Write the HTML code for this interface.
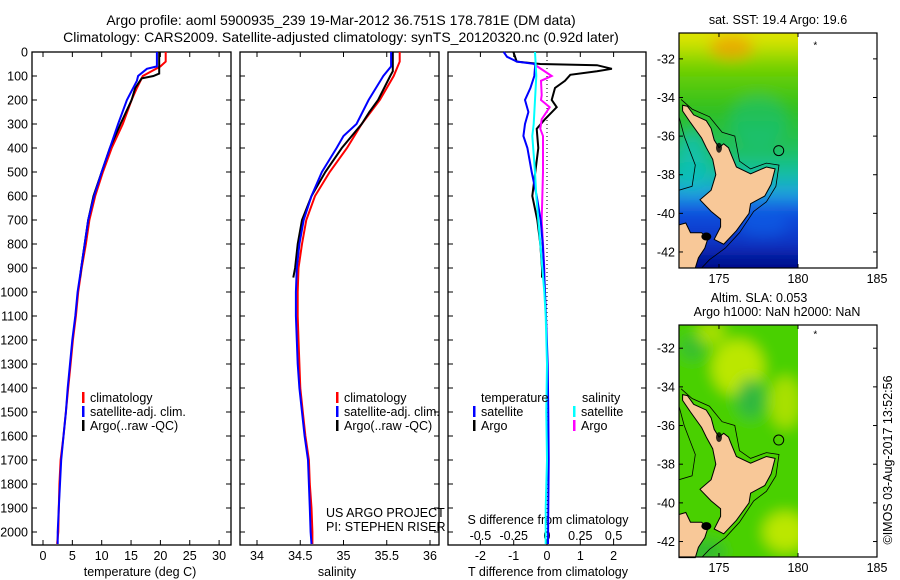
<!DOCTYPE html>
<html><head><meta charset="utf-8">
<style>
html,body{margin:0;padding:0;background:#fff;}
svg{display:block;font-family:"Liberation Sans",sans-serif;}
text{fill:#000;}
</style></head>
<body>
<svg id="fig" width="900" height="580" viewBox="0 0 900 580" xmlns="http://www.w3.org/2000/svg">
<defs><filter id="blur" x="-20%" y="-20%" width="140%" height="140%"><feGaussianBlur stdDeviation="7"/></filter></defs>
<rect width="900" height="580" fill="#fff"/>
<text x="341" y="25" font-size="14" text-anchor="middle">Argo profile: aoml 5900935_239 19-Mar-2012 36.751S 178.781E (DM data)</text>
<text x="341" y="42" font-size="14" text-anchor="middle">Climatology: CARS2009. Satellite-adjusted climatology: synTS_20120320.nc (0.92d later)</text>
<g id="panels"></g>
<g id="maps"></g>
<text transform="translate(892,460) rotate(-90)" font-size="12.5" text-anchor="middle">©IMOS 03-Aug-2017 13:52:56</text>
</svg>
<script>
// ---------- data ----------
const tempClimDepth = [0,40,60,100,150,200,300,400,500,600,700,800,900,1000,1100,1200,1300,1400,1500,1600,1700,1800,1900,2000,2050];
const tempClim      = [20.9,20.9,20,17,16,15.1,13.6,11.7,10.2,8.9,7.9,7.3,6.6,6.0,5.6,5.1,4.7,4.3,3.9,3.5,3.0,2.8,2.7,2.6,2.4];
const tempSatDepth  = [0,60,70,100,120,200,300,400,500,600,700,800,900,1000,1100,1200,1300,1400,1500,1600,1700,1800,1900,2000,2050];
const tempSat       = [19.4,19.4,17.7,16.2,16,14.3,12.8,11.4,10,8.7,7.7,7.1,6.5,5.9,5.5,5.0,4.6,4.2,3.9,3.5,3.1,2.9,2.7,2.5,2.5];
const tempArgoDepth = [0,90,100,110,150,200,300,400,500,600,700,800,900,940];
const tempArgo      = [19.8,19.8,18.8,16.8,15.7,15.1,13.2,11.4,10,8.6,7.7,7.1,6.5,6.3];

const salClimDepth = [0,40,100,200,300,400,500,600,700,800,900,1000,1100,1200,1300,1400,1500,1600,1700,1800,1900,2000,2050];
const salClim      = [35.65,35.65,35.58,35.42,35.21,35.04,34.84,34.67,34.57,34.52,34.48,34.47,34.47,34.48,34.49,34.50,34.53,34.56,34.60,34.61,34.63,34.64,34.64];
const salSatDepth  = [0,60,100,200,300,350,400,500,600,700,800,900,1000,1100,1200,1300,1400,1500,1600,1700,1800,1900,2000,2050];
const salSat       = [35.55,35.55,35.46,35.29,35.15,35.0,34.92,34.75,34.63,34.54,34.49,34.46,34.45,34.45,34.46,34.47,34.49,34.52,34.55,34.59,34.60,34.61,34.62,34.63];
const salArgoDepth = [0,80,100,200,250,300,400,500,600,700,800,900,940];
const salArgo      = [35.57,35.57,35.54,35.40,35.30,35.21,34.98,34.79,34.63,34.52,34.47,34.44,34.42];

const dTSatDepth = [0,20,40,50,100,150,200,250,300,350,400,500,600,700,800,900,1000,1100,1300,1500,1700,1900,2050];
const dTSat      = [-1.3,-1.2,-0.9,-0.35,-0.38,-0.5,-0.66,-0.56,-0.66,-0.71,-0.59,-0.46,-0.31,-0.19,-0.13,-0.09,-0.06,-0.03,0.02,0.04,0.05,0.04,0.03];
const dTArgoDepth = [0,40,50,55,70,80,95,120,150,200,230,280,320,400,500,600,700,800,900,940];
const dTArgo      = [-1.01,-0.91,-0.2,1.5,1.95,1.5,0.7,0.54,0.24,0.14,0.29,-0.06,-0.31,-0.26,-0.35,-0.44,-0.29,-0.2,-0.15,-0.15];
const dSSatDepth = [0,100,200,300,350,500,600,800,1000,1100,1300,1500,1700,1900,2050];
const dSSat      = [-0.09,-0.08,-0.09,-0.10,-0.11,-0.09,-0.08,-0.05,-0.02,-0.01,0,-0.005,0,-0.01,-0.01];
const dSArgoDepth = [50,100,120,180,200,230,280,320,350,500,700,800,900,940];
const dSArgo      = [-0.1,0.035,-0.045,-0.04,-0.045,0.02,-0.04,-0.05,-0.03,-0.03,-0.04,-0.03,-0.02,-0.02];

const depthTicks = [0,100,200,300,400,500,600,700,800,900,1000,1100,1200,1300,1400,1500,1600,1700,1800,1900,2000];
const tempTicks = [0,5,10,15,20,25,30];
const salTicks = [34,34.5,35,35.5,36];
const salTickLabels = ["34","34.5","35","35.5","36"];
const dTTicks = [-2,-1,0,1,2];
const dSTicks = [-0.5,-0.25,0,0.25,0.5];
const dSTickLabels = ["-0.5","-0.25","0","0.25","0.5"];
const lonTicks = [175,180,185];
const latTicks = [-32,-34,-36,-38,-40,-42];

// ---------- scales ----------
const NS="http://www.w3.org/2000/svg";
const TOP=52, BOT=545;
const yD = d => TOP + d*0.24;
const xT = t => 43 + t*5.87;
const xS = s => 257 + (s-34)*86.5;
const xDT = t => 547 + t*33.3;
const xDS = s => xDT(s*4);
function el(tag, attrs, parent){const e=document.createElementNS(NS,tag);for(const k in attrs)e.setAttribute(k,attrs[k]);parent.appendChild(e);return e;}
const panels=document.getElementById('panels');

function frame(x0,x1,name){
  const g=el('g',{},panels);
  
  
  el('rect',{x:x0,y:TOP,width:x1-x0,height:BOT-TOP,fill:'none',stroke:'#000','stroke-width':1.3},g);
  depthTicks.forEach(d=>{
    el('line',{x1:x0,x2:x0+5,y1:yD(d),y2:yD(d),stroke:'#000'},g);
    el('line',{x1:x1-5,x2:x1,y1:yD(d),y2:yD(d),stroke:'#000'},g);
  });
  return g;
}
function xticks(g,xs,labels,y){
  xs.forEach((x,i)=>{
    el('line',{x1:x,x2:x,y1:TOP,y2:TOP+5,stroke:'#000'},g);
    el('line',{x1:x,x2:x,y1:BOT-5,y2:BOT,stroke:'#000'},g);
    if(labels){const t=el('text',{x:x,y:y,'font-size':12.5,'text-anchor':'middle'},g);t.textContent=labels[i];}
  });
}
function line(g,xs,ds,fn,color,name,w){
  const p=el('polyline',{points:xs.map((v,i)=>fn(v).toFixed(1)+','+yD(ds[i]).toFixed(1)).join(' '),fill:'none',stroke:color,'stroke-width':w||2,'stroke-linejoin':'miter'},g);
  
  
}
function txt(g,x,y,s,name,anchor,size){
  const t=el('text',{x:x,y:y,'font-size':size||12.5,'text-anchor':anchor||'start'},g);
  t.textContent=s;
  
  
  return t;
}
function legendMark(g,x,y,color,name){
  const r=el('rect',{x:x,y:y-10,width:2.5,height:11,fill:color},g);
  
  
}

// panel 1: temperature
const p1=frame(32,231,'temperature-panel');
depthTicks.forEach(d=>{txt(p1,28,yD(d)+4.5,String(d),'depth-tick-label','end');});
xticks(p1,tempTicks.map(xT),tempTicks.map(String),560);
txt(p1,140,576,'temperature (deg C)','x-axis-title-temperature','middle');
line(p1,tempClim,tempClimDepth,xT,'#f00','temp-climatology-line');
line(p1,tempArgo,tempArgoDepth,xT,'#000','temp-argo-line');
line(p1,tempSat,tempSatDepth,xT,'#00f','temp-satellite-line');
legendMark(p1,82,402,'#f00','legend-climatology-mark');txt(p1,90,402,'climatology','legend-climatology');
legendMark(p1,82,416,'#00f','legend-satellite-mark');txt(p1,90,416,'satellite-adj. clim.','legend-satellite');
legendMark(p1,82,430,'#000','legend-argo-mark');txt(p1,90,430,'Argo(..raw -QC)','legend-argo');

// panel 2: salinity
const p2=frame(240,439,'salinity-panel');
xticks(p2,salTicks.map(xS),salTickLabels,560);
txt(p2,337,576,'salinity','x-axis-title-salinity','middle');
line(p2,salClim,salClimDepth,xS,'#f00','sal-climatology-line');
line(p2,salArgo,salArgoDepth,xS,'#000','sal-argo-line');
line(p2,salSat,salSatDepth,xS,'#00f','sal-satellite-line');
legendMark(p2,336,402,'#f00','legend-climatology-mark');txt(p2,344,402,'climatology','legend-climatology');
legendMark(p2,336,416,'#00f','legend-satellite-mark');txt(p2,344,416,'satellite-adj. clim.','legend-satellite');
legendMark(p2,336,430,'#000','legend-argo-mark');txt(p2,344,430,'Argo(..raw -QC)','legend-argo');
txt(p2,326,517,'US ARGO PROJECT','project-label');
txt(p2,326,531,'PI: STEPHEN RISER','pi-label');

// panel 3: differences
const p3=frame(448,646,'difference-panel');
xticks(p3,dTTicks.map(xDT),dTTicks.map(String),560);
dSTicks.forEach((s,i)=>txt(p3,xDS(s),540,dSTickLabels[i],'s-diff-tick-label','middle'));
txt(p3,548,524,'S difference from climatology','s-diff-axis-title','middle');
txt(p3,548,576,'T difference from climatology','t-diff-axis-title','middle');
el('line',{x1:xDT(0),x2:xDT(0),y1:TOP,y2:BOT,stroke:'#000','stroke-dasharray':'1,3'},p3);
line(p3,dTArgo,dTArgoDepth,xDT,'#000','tdiff-argo-line');
line(p3,dSArgo,dSArgoDepth,xDS,'#f0f','sdiff-argo-line');
line(p3,dTSat,dTSatDepth,xDT,'#00f','tdiff-satellite-line');
line(p3,dSSat,dSSatDepth,xDS,'#0ff','sdiff-satellite-line');
txt(p3,481,402,'temperature','legend-temperature-header');
txt(p3,582,402,'salinity','legend-salinity-header');
legendMark(p3,473,416,'#00f','legend-t-satellite-mark');txt(p3,481,416,'satellite','legend-t-satellite');
legendMark(p3,473,430,'#000','legend-t-argo-mark');txt(p3,481,430,'Argo','legend-t-argo');
legendMark(p3,573,416,'#0ff','legend-s-satellite-mark');txt(p3,581,416,'satellite','legend-s-satellite');
legendMark(p3,573,430,'#f0f','legend-s-argo-mark');txt(p3,581,430,'Argo','legend-s-argo');

// ---------- maps ----------
const maps=document.getElementById('maps');
const coast=[[172.7,-34.4],[173.0,-34.45],[173.4,-34.9],[174.2,-35.2],[174.5,-35.6],[174.7,-36.2],[175.0,-36.6],[175.3,-36.4],[175.6,-36.6],[175.8,-37.0],[176.1,-37.6],[177.0,-37.95],[178.0,-37.6],[178.55,-37.7],[178.3,-38.5],[177.9,-39.1],[177.0,-39.5],[176.9,-40.0],[176.1,-40.9],[175.3,-41.6],[174.7,-41.35],[175.1,-40.7],[175.1,-40.3],[174.5,-39.9],[173.8,-39.3],[174.5,-38.8],[174.8,-38.0],[174.6,-37.2],[174.2,-36.6],[173.9,-36.1],[173.2,-35.3],[172.7,-34.7]];
const shelf=[[172.6,-34.1],[173.3,-34.6],[174.4,-35.0],[175.2,-35.8],[176.0,-36.0],[176.3,-37.3],[177.0,-37.7],[178.0,-37.4],[178.8,-37.5],[178.6,-38.6],[178.0,-39.4],[177.2,-39.9],[176.3,-41.0],[175.4,-41.8],[174.4,-42.4],[173.9,-42.83]];
const shelfW=[[172.47,-35.0],[172.8,-36.0],[173.5,-37.5],[173.3,-38.6],[172.47,-38.8]];
const southIsland=[[172.47,-40.6],[172.9,-40.5],[173.2,-41.0],[173.9,-41.0],[174.3,-41.3],[174.1,-41.8],[173.7,-42.3],[173.5,-42.83],[172.47,-42.83]];
function makeMap(top,bot,latTop,latBot,kind,title1,title2,t1y,t2y,t1x,t2x){
  const g=el('g',{},maps);
  
  
  const X0=679,X1=877,lon0=172.47,lon1=185;
  const mx=l=>X0+(l-lon0)*(X1-X0)/(lon1-lon0);
  const my=l=>top+(latTop-l)*(bot-top)/(latTop-latBot);
  const id='clip'+kind;
  const cp=el('clipPath',{id:id},g);el('rect',{x:X0,y:top,width:mx(180)-X0,height:bot-top},cp);
  const dg=el('g',{'clip-path':'url(#'+id+')'},g);
  const bg=el('g',{filter:'url(#blur)'},dg);
  if(kind==='sst'){
    const gr=el('linearGradient',{id:'sstg',x1:0,y1:0,x2:0,y2:1},g);
    [[0,'#f0e000'],[0.1,'#d8e400'],[0.2,'#70d000'],[0.35,'#30c020'],[0.5,'#20c060'],[0.58,'#10c0a0'],[0.66,'#20a0e0'],[0.72,'#1050e0'],[0.85,'#1030c0'],[0.9,'#001090'],[1,'#000a80']].forEach(s=>el('stop',{offset:s[0],'stop-color':s[1]},gr));
    el('rect',{x:X0-20,y:top-20,width:X1-X0+40,height:bot-top+40,fill:'url(#sstg)'},bg);
    el('ellipse',{cx:mx(175.8),cy:my(-31.4),rx:22,ry:12,fill:'#f0a000',opacity:0.8},bg);
    el('ellipse',{cx:mx(177.5),cy:my(-35.2),rx:28,ry:25,fill:'#10c0a0',opacity:0.4},bg);
    el('ellipse',{cx:mx(173.3),cy:my(-37.3),rx:14,ry:30,fill:'#10c0c0',opacity:0.7},bg);
    el('ellipse',{cx:mx(177.8),cy:my(-40.6),rx:25,ry:12,fill:'#1060e8',opacity:0.6},bg);
  } else {
    el('rect',{x:X0-20,y:top-20,width:X1-X0+40,height:bot-top+40,fill:'#48d000'},bg);
    [[176.2,-33.0,26,28,'#d8ec00'],[179.2,-34.8,16,26,'#c0e400'],[179.2,-41.5,22,20,'#d8ec00'],[174.5,-31.2,14,12,'#c0e400'],[177.0,-34.6,14,20,'#28b050'],[174.0,-42.5,22,10,'#28b040'],[173.3,-32.0,12,12,'#30b840']].forEach(e=>el('ellipse',{cx:mx(e[0]),cy:my(e[1]),rx:e[2],ry:e[3],fill:e[4],opacity:0.8},bg));
  }
  const pts=a=>a.map(p=>mx(p[0]).toFixed(1)+','+my(p[1]).toFixed(1)).join(' ');
  el('polyline',{points:pts(shelf),fill:'none',stroke:'#000','stroke-width':0.8},dg);
  el('polyline',{points:pts(shelfW),fill:'none',stroke:'#000','stroke-width':0.8},dg);
  const land=el('polygon',{points:pts(coast),fill:'#f8c898',stroke:'#000','stroke-width':1},g);
  
  
  el('polygon',{points:pts(southIsland),fill:'#f8c898',stroke:'#000','stroke-width':1},g);
  el('ellipse',{cx:mx(174.2),cy:my(-41.2),rx:5,ry:4,fill:'#000'},g);
  el('ellipse',{cx:mx(175.0),cy:my(-36.6),rx:3,ry:5,fill:'#000',opacity:0.8},g);
  const c=el('circle',{cx:mx(178.78),cy:my(-36.75),r:5,fill:'none',stroke:'#000','stroke-width':1},g);
  
  
  txt(g,mx(181.1),my(-31.3)+3,'*','map-marker-star','middle',10);
  el('rect',{x:X0,y:top,width:X1-X0,height:bot-top,fill:'none',stroke:'#000','stroke-width':1.2},g);
  lonTicks.forEach(l=>{el('line',{x1:mx(l),x2:mx(l),y1:top,y2:top+4,stroke:'#000'},g);el('line',{x1:mx(l),x2:mx(l),y1:bot-4,y2:bot,stroke:'#000'},g);txt(g,mx(l),bot+15,String(l),'map-lon-tick-label','middle');});
  latTicks.forEach(l=>{el('line',{x1:X0,x2:X0+4,y1:my(l),y2:my(l),stroke:'#000'},g);el('line',{x1:X1-4,x2:X1,y1:my(l),y2:my(l),stroke:'#000'},g);txt(g,X0-4,my(l)+4.5,String(l),'map-lat-tick-label','end');});
  txt(g,t1x,t1y,title1,'map-title','middle');
  if(title2) txt(g,t2x,t2y,title2,'map-subtitle','middle');
}
makeMap(33,268,-30.66,-42.83,'sst','sat. SST: 19.4 Argo: 19.6',null,24,0,778,0);
makeMap(325,557,-30.8,-42.8,'sla','Altim. SLA: 0.053','Argo h1000: NaN h2000: NaN',302,316,759,777);
</script>
</body></html>
